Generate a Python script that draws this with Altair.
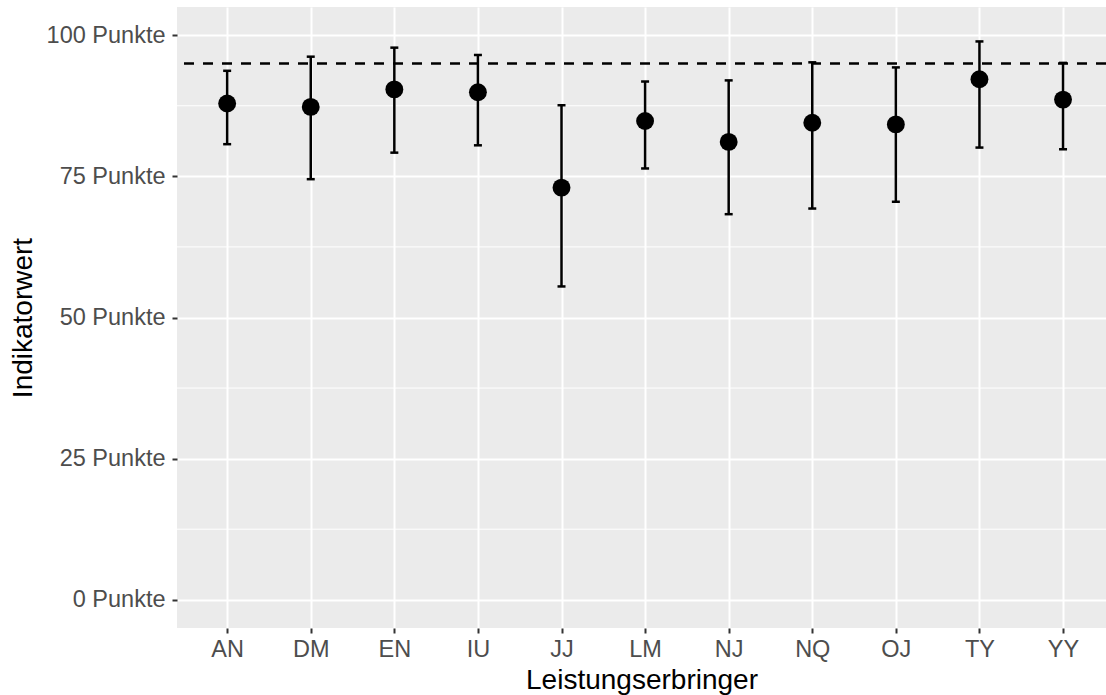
import json
import altair as alt
import pandas as pd

# Data
providers = ["AN", "DM", "EN", "IU", "JJ", "LM", "NJ", "NQ", "OJ", "TY", "YY"]
values = [87.9, 87.3, 90.4, 89.9, 73.0, 84.8, 81.1, 84.5, 84.2, 92.2, 88.6]
lower = [80.7, 74.5, 79.2, 80.5, 55.5, 76.4, 68.3, 69.3, 70.5, 80.1, 79.8]
upper = [93.7, 96.2, 97.8, 96.5, 87.6, 91.8, 92.0, 95.2, 94.3, 98.9, 95.1]
reference_value = [95]
y_breaks = [0, 25, 50, 75, 100]
y_minor_breaks = [12.5, 37.5, 62.5, 87.5]

df = pd.DataFrame({
    "idx": list(range(len(providers))),
    "provider": providers,
    "value": values,
    "lower": lower,
    "upper": upper,
})
ref_df = pd.DataFrame({"ref": reference_value})
minor_df = pd.DataFrame({"m": y_minor_breaks})

label_expr = json.dumps(providers).replace('"', "'") + "[datum.value]"

x_scale = alt.Scale(domain=[-0.6, 10.514], nice=False, zero=False)
y_scale = alt.Scale(domain=[-5, 105], nice=False, zero=False)

FONT = "Liberation Sans"

x_axis = alt.Axis(
    values=list(range(len(providers))),
    labelExpr=label_expr,
    title="Leistungserbringer",
    domain=False,
    grid=True, gridColor="white", gridWidth=2,
    ticks=True, tickColor="#333333", tickWidth=2, tickSize=5,
    labelColor="#4D4D4D", labelFontSize=23.5, labelFont=FONT, labelPadding=4,
    titleFont=FONT, titleFontSize=28, titleFontWeight="normal", titleColor="black",
    titlePadding=6,
)
y_axis = alt.Axis(
    values=y_breaks,
    labelExpr="datum.value + ' Punkte'",
    title="Indikatorwert",
    domain=False,
    grid=True, gridColor="white", gridWidth=2,
    ticks=True, tickColor="#333333", tickWidth=2, tickSize=5,
    labelColor="#4D4D4D", labelFontSize=23.5, labelFont=FONT, labelPadding=7,
    titleFont=FONT, titleFontSize=28, titleFontWeight="normal", titleColor="black",
    titlePadding=9,
)

minor = alt.Chart(minor_df).mark_rule(color="white", strokeWidth=1).encode(
    y=alt.Y("m:Q", scale=y_scale, axis=y_axis)
)

dashed = alt.Chart(ref_df).mark_rule(color="black", strokeWidth=2.5, strokeDash=[10, 9]).encode(
    y=alt.Y("ref:Q", scale=y_scale)
)

base = alt.Chart(df)

bars = base.mark_rule(color="black", strokeWidth=2.5).encode(
    x=alt.X("idx:Q", scale=x_scale, axis=x_axis),
    y=alt.Y("lower:Q", scale=y_scale),
    y2="upper:Q",
)
cap_lo = base.mark_tick(color="black", orient="horizontal", size=8, thickness=2.5, opacity=1).encode(
    x=alt.X("idx:Q", scale=x_scale),
    y=alt.Y("lower:Q", scale=y_scale),
)
cap_hi = base.mark_tick(color="black", orient="horizontal", size=8, thickness=2.5, opacity=1).encode(
    x=alt.X("idx:Q", scale=x_scale),
    y=alt.Y("upper:Q", scale=y_scale),
)
points = base.mark_circle(color="black", size=320, opacity=1).encode(
    x=alt.X("idx:Q", scale=x_scale),
    y=alt.Y("value:Q", scale=y_scale),
)

chart = alt.layer(minor, dashed, bars, cap_lo, cap_hi, points).properties(
    width=929,
    height=621,
    autosize=alt.AutoSizeParams(type="none"),
    padding={"left": 177, "top": 7, "right": 0, "bottom": 67},
    background="white",
).configure_view(fill="#EBEBEB", stroke=None)

chart.save("out.html", embed_options={"renderer": "svg", "actions": False})
